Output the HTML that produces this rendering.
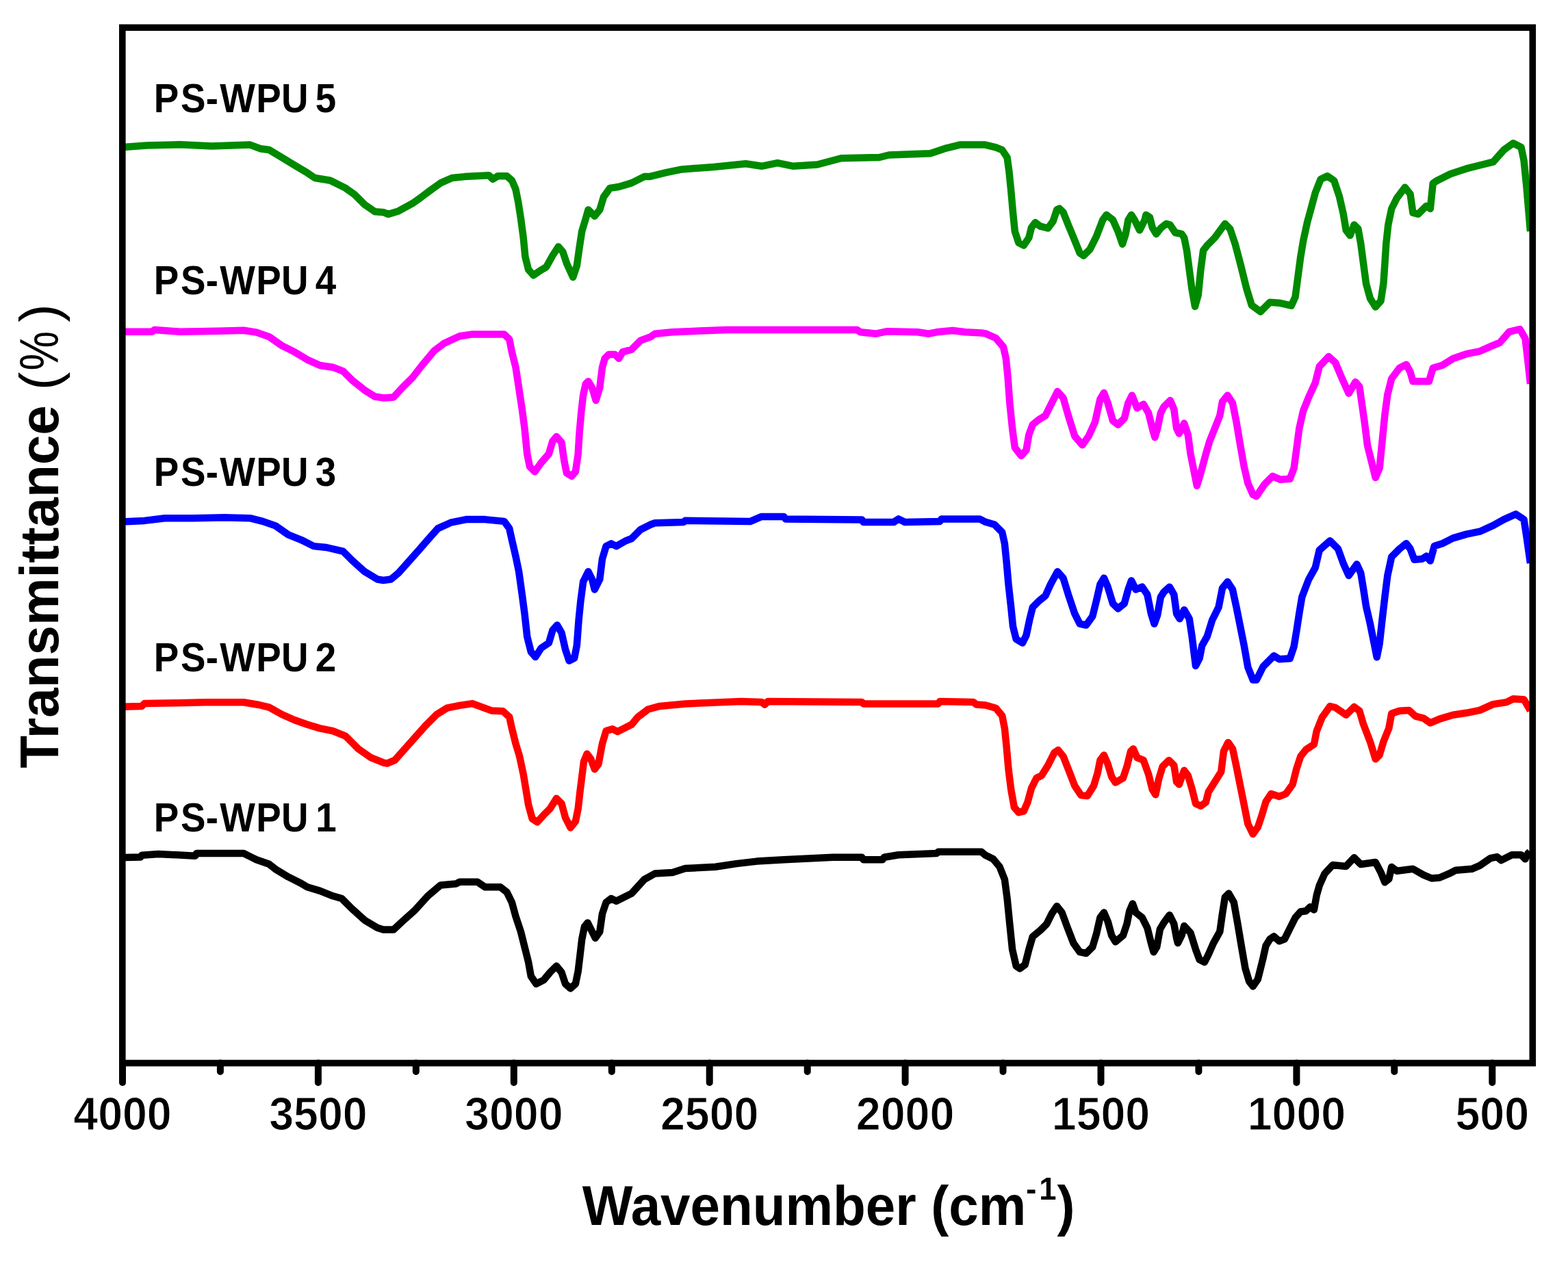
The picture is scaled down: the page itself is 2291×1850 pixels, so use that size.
<!DOCTYPE html><html><head><meta charset="utf-8"><title>FTIR spectra</title><style>html,body{margin:0;padding:0;background:#fff;overflow:hidden;}svg{display:block;}text{font-family:"Liberation Sans",Arial,sans-serif;font-weight:bold;fill:#000;}</style></head><body>
<svg width="2291" height="1850" viewBox="0 0 2291 1850">
<rect x="0" y="0" width="2291" height="1850" fill="#fff"/>
<path d="M177.4 215.3L214.7 212.6L263.0 211.3L309.5 213.5L365.3 211.6L380.2 217.2L393.3 219.0L412.0 230.2L430.5 241.4L449.0 252.6L460.0 260.0L482.6 263.7L505.0 274.9L518.0 284.2L532.8 299.0L547.7 309.3L560.0 310.2L567.4 313.0L582.3 308.4L602.8 297.2L615.8 287.9L630.7 276.7L643.7 267.4L660.5 260.0L679.0 258.1L714.4 256.3L720.0 261.9L727.4 257.2L740.5 257.2L747.9 263.7L753.5 276.7L757.2 295.3L761.0 319.5L764.7 347.4L767.4 375.3L772.1 394.0L779.5 402.3L788.8 395.8L798.1 390.2L807.4 373.5L815.8 360.5L822.3 367.9L827.9 384.7L837.2 405.1L842.8 388.4L846.5 362.3L850.2 338.1L855.8 319.5L859.5 306.5L868.8 315.8L876.3 306.5L881.9 287.9L891.2 274.9L904.2 273.0L922.8 267.4L941.4 258.1L950.0 257.9L973.3 252.1L996.5 247.4L1043.0 244.0L1089.5 239.3L1112.8 242.8L1136.0 238.1L1159.3 242.8L1194.2 240.5L1229.0 231.2L1284.9 230.0L1298.8 226.5L1359.3 224.2L1380.2 217.2L1403.5 211.4L1438.4 211.4L1454.9 215.3L1464.2 219.1L1471.6 230.2L1474.4 250.7L1477.2 278.6L1480.0 310.2L1482.8 338.1L1488.4 354.9L1495.8 358.6L1503.3 347.4L1507.0 332.6L1512.6 325.1L1520.0 330.7L1531.2 333.5L1538.6 323.3L1544.2 306.5L1547.9 304.7L1553.5 310.2L1560.9 328.8L1570.2 351.2L1577.7 369.8L1583.3 373.5L1592.6 364.2L1601.9 345.6L1611.2 321.4L1616.7 314.0L1626.0 321.4L1633.5 338.1L1640.0 356.7L1644.7 341.9L1648.4 321.4L1653.0 314.0L1657.7 321.4L1665.1 336.3L1672.6 321.4L1674.4 314.0L1680.0 317.7L1683.7 332.6L1689.3 341.9L1696.7 332.6L1704.2 327.0L1709.8 328.8L1717.2 340.0L1726.5 341.9L1730.2 347.4L1734.0 366.0L1737.7 394.0L1741.4 421.9L1746.0 447.9L1750.7 431.2L1754.4 394.0L1758.1 366.0L1763.7 358.6L1774.9 347.4L1789.8 327.0L1797.2 334.4L1804.7 356.7L1812.1 384.7L1821.4 421.9L1828.8 446.0L1841.7 455.4L1855.4 441.8L1869.1 442.7L1886.7 446.7L1892.5 434.0L1896.4 404.6L1900.3 375.3L1904.2 351.9L1910.1 324.6L1916.0 303.1L1921.8 281.6L1929.6 262.0L1939.4 257.2L1949.2 264.0L1957.0 287.4L1962.8 312.8L1966.7 336.3L1972.6 344.1L1978.5 328.5L1984.3 334.3L1988.2 355.8L1992.1 385.1L1996.0 414.4L2001.9 435.9L2009.7 448.6L2017.5 439.8L2021.4 414.4L2023.4 385.1L2025.3 355.8L2028.3 328.5L2033.2 305.0L2041.0 289.4L2052.7 273.8L2060.5 283.5L2064.4 310.9L2072.2 312.8L2084.0 301.1L2089.8 305.0L2093.7 267.9L2099.6 264.0L2119.1 254.2L2142.6 246.4L2162.1 241.5L2181.6 236.7L2197.3 219.1L2210.9 209.3L2222.6 215.2L2226.6 234.7L2230.5 273.8L2236.0 338.0" fill="none" stroke="#008a00" stroke-width="10.5" stroke-linejoin="round" stroke-linecap="butt"/>
<path d="M177.4 484.7L222.1 484.7L225.8 481.9L263.0 484.7L318.8 483.7L356.0 482.8L374.6 485.6L393.3 492.1L411.9 505.1L430.5 514.4L449.0 525.6L467.7 534.0L486.3 536.7L501.2 542.3L514.2 555.3L532.8 570.2L547.7 579.5L560.0 581.4L574.9 580.5L587.9 566.5L602.8 551.6L615.8 534.9L634.4 512.6L649.3 501.4L671.6 491.2L690.2 488.4L736.7 488.4L744.2 495.8L747.9 514.4L753.5 536.7L757.2 560.9L762.8 598.1L766.5 626.0L770.2 663.3L774.0 681.9L781.4 689.3L790.7 676.3L801.9 663.3L807.4 644.7L813.0 638.1L820.5 646.5L824.2 672.6L827.9 691.2L835.3 695.8L840.9 689.3L844.7 663.3L846.5 633.5L849.3 601.9L852.1 577.7L855.8 560.9L859.5 557.2L865.1 566.5L870.7 585.1L876.3 566.5L880.0 536.7L883.7 523.7L889.3 518.1L898.6 518.1L904.2 523.7L909.8 514.4L922.8 510.7L935.8 497.7L950.7 492.1L957.0 487.7L982.6 485.3L1061.6 481.9L1252.3 481.9L1257.0 485.3L1280.2 487.7L1296.5 484.2L1340.7 485.3L1357.0 487.7L1368.6 485.3L1391.9 483.0L1410.5 485.3L1433.7 486.5L1440.0 487.4L1454.9 494.0L1466.0 507.0L1469.8 523.7L1472.6 551.6L1475.3 588.8L1479.1 626.0L1482.8 654.0L1492.1 666.0L1499.5 657.7L1503.3 635.3L1508.8 620.5L1518.1 613.0L1527.4 607.4L1536.7 588.8L1545.1 572.1L1553.5 581.4L1560.9 607.4L1570.2 637.2L1581.4 650.2L1590.7 637.2L1600.0 616.7L1607.4 583.3L1613.0 574.0L1618.6 588.8L1626.0 614.9L1633.5 620.5L1642.8 611.2L1648.4 588.8L1654.0 577.7L1661.4 596.3L1670.7 590.7L1678.1 603.7L1683.7 626.0L1687.4 639.1L1691.2 626.0L1695.8 603.7L1700.5 594.4L1709.8 585.1L1715.3 598.1L1719.1 626.0L1722.8 633.5L1730.2 618.6L1735.8 635.3L1739.5 663.3L1745.1 691.2L1748.8 709.8L1754.4 691.2L1761.9 663.3L1767.4 644.7L1774.9 626.0L1782.3 607.4L1786.0 587.0L1793.5 577.7L1800.9 588.8L1806.5 616.7L1812.1 650.2L1817.7 681.9L1823.3 706.0L1830.7 722.8L1835.9 725.2L1847.6 707.6L1859.3 695.9L1871.0 700.8L1884.7 699.8L1890.6 684.2L1894.5 654.9L1898.4 625.6L1904.2 600.2L1912.0 580.7L1921.8 559.2L1927.7 535.7L1941.3 521.1L1951.1 529.9L1960.9 553.3L1970.7 574.8L1980.4 558.2L1986.3 565.0L1990.2 592.4L1994.1 619.7L1998.0 651.0L2003.9 674.4L2009.7 697.9L2015.6 684.2L2019.5 645.1L2023.4 606.0L2027.3 576.7L2033.2 553.3L2044.9 537.7L2054.7 532.8L2060.5 543.5L2064.4 557.2L2076.1 557.2L2087.9 557.2L2093.7 537.7L2107.4 533.8L2123.0 524.0L2142.6 517.2L2162.1 513.3L2177.7 506.4L2191.4 500.6L2205.1 484.9L2220.7 481.0L2228.5 494.7L2232.4 527.9L2236.0 561.0" fill="none" stroke="#ff00ff" stroke-width="10.5" stroke-linejoin="round" stroke-linecap="butt"/>
<path d="M177.4 762.4L210.9 760.9L240.7 757.2L281.6 757.2L328.1 756.3L365.3 757.2L384.0 761.9L402.6 768.4L421.2 781.4L439.8 788.8L458.4 798.1L477.0 800.0L501.2 805.6L514.2 818.6L532.8 835.3L551.4 846.5L560.0 848.0L571.2 846.5L582.3 837.2L597.2 820.5L612.1 803.7L625.1 788.8L640.0 772.1L658.6 763.7L680.9 759.1L708.8 759.1L736.7 761.9L744.2 772.1L747.9 788.8L753.5 813.0L758.1 835.3L762.8 868.8L766.5 896.7L770.2 930.2L775.8 952.6L782.3 960.0L790.7 947.0L801.9 939.5L807.4 920.9L814.0 913.5L820.5 924.7L826.0 948.8L831.6 965.6L839.1 961.9L842.8 943.3L845.6 906.0L848.4 878.1L852.1 850.2L859.5 835.3L865.1 846.5L868.8 861.4L876.3 846.5L880.0 816.7L885.6 798.1L893.0 794.4L900.5 798.1L913.5 790.7L922.8 787.0L935.8 774.0L950.7 766.5L957.0 764.2L998.8 763.0L1001.2 760.7L1096.5 761.9L1112.8 754.9L1145.3 754.9L1147.7 758.4L1259.3 759.5L1261.6 763.0L1305.8 763.0L1312.8 758.4L1322.1 763.0L1373.3 761.9L1375.6 758.4L1431.4 758.4L1440.0 762.8L1453.0 766.5L1464.2 777.7L1467.9 794.4L1470.7 822.3L1473.5 854.0L1477.2 887.4L1480.0 915.3L1484.7 934.0L1494.0 939.5L1499.5 928.4L1504.2 906.0L1508.8 887.4L1518.1 878.1L1527.4 870.7L1534.9 854.0L1545.1 835.3L1553.5 844.7L1560.9 868.8L1570.2 896.7L1577.7 911.6L1587.0 913.5L1596.3 900.5L1601.9 878.1L1607.4 854.0L1613.0 844.7L1618.6 857.7L1626.0 881.9L1633.5 889.3L1642.8 881.9L1648.4 861.4L1653.0 848.4L1659.5 861.4L1668.8 857.7L1676.3 868.8L1681.9 896.7L1686.5 911.6L1691.2 898.6L1695.8 872.6L1700.5 865.1L1708.8 857.7L1715.3 868.8L1719.1 896.7L1723.7 904.2L1730.2 891.2L1737.7 904.2L1741.4 928.4L1745.1 958.1L1747.0 973.0L1752.6 961.9L1756.3 943.3L1763.7 930.2L1771.2 906.0L1780.5 887.4L1786.0 859.5L1793.5 850.2L1800.9 861.4L1806.5 887.4L1812.1 915.3L1817.7 943.3L1823.3 974.9L1830.7 993.5L1835.9 993.5L1845.6 974.0L1861.3 958.3L1869.1 963.2L1884.7 962.2L1890.6 944.7L1894.5 921.2L1898.4 895.8L1902.3 872.4L1912.0 847.0L1921.8 829.4L1927.7 804.0L1943.3 790.3L1955.0 802.0L1962.8 823.5L1970.7 841.1L1982.4 824.5L1988.2 837.2L1992.1 860.6L1996.0 886.0L2001.9 911.4L2007.8 940.7L2011.7 960.3L2015.6 940.7L2019.5 905.6L2023.4 872.4L2027.3 841.1L2033.2 813.8L2044.9 802.0L2054.7 794.2L2060.5 802.0L2066.4 817.7L2078.1 816.7L2084.0 812.8L2089.8 819.6L2095.7 798.1L2107.4 794.2L2123.0 786.4L2142.6 780.6L2162.1 776.7L2181.6 767.9L2197.3 759.1L2214.8 751.3L2226.6 759.1L2230.5 784.5L2236.0 823.0" fill="none" stroke="#0000ff" stroke-width="10.5" stroke-linejoin="round" stroke-linecap="butt"/>
<path d="M177.4 1032.8L207.2 1031.9L210.9 1028.1L259.3 1027.2L300.2 1026.3L356.0 1026.3L378.4 1030.0L393.3 1033.7L411.9 1044.0L430.5 1052.3L449.0 1058.8L467.7 1064.4L486.3 1068.1L504.9 1075.6L523.5 1094.2L542.1 1107.2L560.7 1114.7L565.6 1115.6L576.7 1110.9L591.6 1094.2L606.5 1077.4L621.4 1060.7L638.1 1044.0L653.0 1034.7L671.6 1030.9L690.2 1028.1L705.1 1033.7L718.1 1038.4L734.9 1039.3L744.2 1047.7L747.9 1064.4L753.5 1086.7L759.1 1105.3L764.7 1131.4L768.4 1153.7L772.1 1176.0L777.7 1196.5L785.1 1201.2L794.4 1190.9L803.7 1181.6L813.0 1166.7L820.5 1174.2L826.0 1194.7L833.5 1209.5L840.9 1200.2L844.7 1181.6L847.4 1157.4L850.2 1135.1L853.0 1112.8L857.7 1101.6L863.3 1109.1L868.8 1124.0L874.4 1116.5L880.0 1086.7L885.6 1068.1L894.9 1065.3L902.3 1069.1L922.8 1058.8L932.1 1047.7L947.0 1036.5L964.0 1031.9L1001.2 1028.4L1082.6 1024.9L1112.8 1026.0L1117.4 1029.5L1122.1 1024.9L1259.3 1026.0L1261.6 1028.4L1370.9 1028.4L1373.3 1024.9L1422.1 1026.0L1426.7 1029.5L1440.0 1030.5L1454.9 1034.7L1464.2 1045.8L1467.9 1064.4L1470.7 1092.3L1473.5 1124.0L1477.2 1153.7L1481.9 1179.8L1488.4 1187.2L1495.8 1185.3L1501.4 1172.3L1507.0 1151.9L1514.4 1137.0L1521.9 1133.3L1531.2 1118.4L1540.5 1099.8L1546.0 1096.0L1553.5 1105.3L1560.9 1124.0L1570.2 1148.1L1579.5 1162.1L1588.8 1163.0L1598.1 1148.1L1603.7 1129.5L1607.4 1110.9L1613.0 1103.5L1618.6 1116.5L1624.2 1135.1L1629.8 1143.5L1640.9 1137.0L1646.5 1120.2L1652.1 1097.9L1655.8 1094.2L1661.4 1107.2L1670.7 1110.9L1678.1 1131.4L1683.7 1153.7L1688.4 1161.2L1693.0 1138.8L1698.6 1120.2L1707.9 1110.9L1715.3 1118.4L1719.1 1142.6L1722.8 1146.3L1730.2 1125.8L1735.8 1133.3L1741.4 1151.9L1747.0 1174.2L1754.4 1177.9L1761.9 1172.3L1765.6 1157.4L1774.9 1142.6L1784.2 1127.7L1787.9 1097.9L1794.4 1084.9L1801.0 1094.2L1806.5 1120.2L1812.1 1148.1L1817.7 1176.0L1823.3 1204.0L1830.7 1218.8L1837.8 1208.8L1843.7 1191.2L1849.5 1171.7L1857.3 1160.0L1869.1 1163.9L1878.8 1160.0L1888.6 1146.3L1894.5 1122.8L1900.3 1105.3L1908.1 1095.5L1919.9 1087.7L1923.8 1068.1L1931.6 1048.6L1943.3 1032.0L1951.1 1034.0L1966.7 1044.7L1978.5 1033.0L1986.3 1038.8L1992.1 1058.4L2001.9 1083.8L2009.7 1109.2L2015.6 1103.3L2021.4 1083.8L2029.3 1064.2L2033.2 1042.7L2044.9 1038.8L2058.6 1037.9L2068.3 1046.7L2080.0 1049.6L2089.8 1056.4L2103.5 1050.6L2123.0 1044.7L2142.6 1041.8L2162.1 1037.9L2181.6 1029.1L2201.2 1026.1L2210.9 1021.3L2226.6 1022.2L2236.0 1038.5" fill="none" stroke="#ff0000" stroke-width="10.5" stroke-linejoin="round" stroke-linecap="butt"/>
<path d="M183.0 1253.1L205.3 1252.6L207.2 1249.8L231.4 1247.9L285.3 1250.7L287.2 1247.0L356.0 1247.0L365.3 1251.6L374.6 1256.3L393.3 1262.8L402.6 1270.2L421.2 1281.4L439.8 1290.7L449.0 1296.3L467.7 1301.9L486.3 1309.3L499.3 1313.0L514.2 1327.9L532.8 1344.7L551.4 1355.8L560.0 1358.6L574.9 1358.6L587.9 1346.5L606.5 1329.8L625.1 1309.3L643.7 1293.5L666.0 1291.6L671.6 1288.8L697.7 1288.8L708.8 1296.3L731.2 1296.3L740.5 1303.7L747.9 1318.6L753.5 1339.1L760.9 1361.4L766.5 1383.7L772.1 1406.0L775.8 1426.5L783.3 1437.7L794.4 1432.1L803.7 1420.9L813.0 1411.6L820.5 1420.9L826.0 1437.7L833.5 1444.2L840.9 1437.7L844.7 1419.1L847.4 1396.7L850.2 1372.6L854.0 1354.0L858.6 1348.4L865.1 1361.4L869.8 1370.7L876.3 1361.4L880.0 1335.3L885.6 1318.6L893.0 1313.0L900.5 1316.7L922.8 1305.6L941.4 1285.1L957.0 1276.5L982.6 1274.9L1001.2 1269.1L1045.3 1266.7L1075.6 1262.1L1105.8 1258.6L1145.3 1256.3L1217.4 1252.8L1259.3 1252.8L1261.6 1256.3L1289.5 1256.3L1291.9 1252.8L1312.8 1249.3L1368.6 1247.0L1370.9 1244.7L1433.7 1244.7L1440.0 1249.8L1451.2 1255.3L1460.5 1266.5L1467.9 1285.1L1471.6 1313.0L1475.3 1350.2L1479.1 1387.4L1484.7 1411.6L1490.2 1415.3L1497.7 1409.8L1503.3 1387.4L1508.8 1368.8L1520.0 1359.5L1529.3 1350.2L1536.7 1335.3L1544.2 1324.2L1551.6 1333.5L1559.1 1354.0L1568.4 1378.1L1577.7 1391.2L1587.0 1393.0L1596.3 1383.7L1601.9 1365.1L1607.4 1340.9L1613.0 1333.5L1618.6 1346.5L1624.2 1367.0L1629.8 1376.3L1640.9 1367.0L1646.5 1350.2L1650.2 1331.6L1654.9 1320.5L1659.5 1333.5L1668.8 1340.9L1676.3 1355.8L1681.9 1378.1L1685.6 1391.2L1690.2 1383.7L1694.9 1357.7L1700.5 1348.4L1708.8 1337.2L1715.3 1350.2L1719.1 1370.7L1720.9 1378.1L1726.5 1367.0L1730.2 1353.0L1739.5 1363.3L1747.0 1387.4L1752.6 1402.3L1760.0 1406.0L1765.6 1394.9L1773.0 1378.1L1782.3 1361.4L1786.0 1335.3L1789.8 1311.2L1795.3 1305.6L1802.8 1318.6L1808.4 1350.2L1814.0 1383.7L1819.5 1415.3L1825.1 1434.0L1830.7 1441.4L1837.8 1431.0L1841.7 1415.4L1845.6 1399.7L1849.5 1382.1L1855.4 1372.4L1861.3 1368.5L1869.1 1375.3L1876.9 1372.4L1884.7 1356.7L1892.5 1341.1L1900.3 1332.3L1908.1 1331.3L1914.0 1325.5L1919.9 1329.4L1923.8 1307.9L1927.7 1294.2L1935.5 1276.7L1947.2 1264.0L1966.7 1265.9L1978.5 1253.2L1988.2 1263.0L2009.7 1260.0L2017.5 1274.7L2023.4 1289.3L2029.3 1284.5L2033.2 1266.9L2041.0 1272.7L2064.4 1269.8L2080.0 1278.6L2091.8 1283.5L2103.5 1282.5L2117.2 1276.7L2126.9 1271.8L2150.4 1269.8L2162.1 1264.9L2177.7 1254.2L2187.5 1252.2L2193.4 1257.1L2209.0 1249.3L2222.6 1249.3L2228.5 1255.2L2232.4 1247.3L2235.3 1244.4" fill="none" stroke="#000" stroke-width="10.5" stroke-linejoin="round" stroke-linecap="butt"/>
<rect x="178.8" y="40.3" width="2060.5" height="1513.2" fill="none" stroke="#000" stroke-width="9.6"/>
<path d="M179.0 1553.5V1582.0M464.9 1553.5V1582.0M750.8 1553.5V1582.0M1036.7 1553.5V1582.0M1322.6 1553.5V1582.0M1608.5 1553.5V1582.0M1894.4 1553.5V1582.0M2180.3 1553.5V1582.0M321.9 1553.5V1566.0M607.8 1553.5V1566.0M893.8 1553.5V1566.0M1179.7 1553.5V1566.0M1465.5 1553.5V1566.0M1751.4 1553.5V1566.0M2037.3 1553.5V1566.0" stroke="#000" stroke-width="10" stroke-linecap="round" fill="none"/>
<text transform="translate(179.0 1651.2) scale(0.935 1)" x="0" y="0" font-size="69" text-anchor="middle" stroke="#fff" stroke-width="1.1">4000</text>
<text transform="translate(464.9 1651.2) scale(0.935 1)" x="0" y="0" font-size="69" text-anchor="middle" stroke="#fff" stroke-width="1.1">3500</text>
<text transform="translate(750.8 1651.2) scale(0.935 1)" x="0" y="0" font-size="69" text-anchor="middle" stroke="#fff" stroke-width="1.1">3000</text>
<text transform="translate(1036.7 1651.2) scale(0.935 1)" x="0" y="0" font-size="69" text-anchor="middle" stroke="#fff" stroke-width="1.1">2500</text>
<text transform="translate(1322.6 1651.2) scale(0.935 1)" x="0" y="0" font-size="69" text-anchor="middle" stroke="#fff" stroke-width="1.1">2000</text>
<text transform="translate(1608.5 1651.2) scale(0.935 1)" x="0" y="0" font-size="69" text-anchor="middle" stroke="#fff" stroke-width="1.1">1500</text>
<text transform="translate(1894.4 1651.2) scale(0.935 1)" x="0" y="0" font-size="69" text-anchor="middle" stroke="#fff" stroke-width="1.1">1000</text>
<text transform="translate(2180.3 1651.2) scale(0.935 1)" x="0" y="0" font-size="69" text-anchor="middle" stroke="#fff" stroke-width="1.1">500</text>
<text transform="scale(0.92 1)" x="244.3 286.9 327.0 349.1 406.8 446.8 480.0 500.9" y="164.4" font-size="59.5">PS-WPU 5</text>
<text transform="scale(0.92 1)" x="244.3 286.9 327.0 349.1 406.8 446.8 480.0 500.9" y="429.9" font-size="59.5">PS-WPU 4</text>
<text transform="scale(0.92 1)" x="244.3 286.9 327.0 349.1 406.8 446.8 480.0 500.9" y="710.4" font-size="59.5">PS-WPU 3</text>
<text transform="scale(0.92 1)" x="244.3 286.9 327.0 349.1 406.8 446.8 480.0 500.9" y="981.1" font-size="59.5">PS-WPU 2</text>
<text transform="scale(0.92 1)" x="244.3 286.9 327.0 349.1 406.8 446.8 480.0 501.5" y="1214.8" font-size="59.5">PS-WPU 1</text>
<text transform="translate(850.8 1789.6) scale(0.965 1)" x="0" y="0" font-size="81">Wavenumber (cm<tspan font-size="47" dy="-37">-</tspan><tspan font-size="47" dx="4">1</tspan><tspan dy="37" dx="1">)</tspan></text>
<text transform="translate(85.3 1122.8) rotate(-90)" x="0" y="0" font-size="80" textLength="530.7" lengthAdjust="spacingAndGlyphs">Transmittance</text>
<g transform="translate(85.3 1122.8) rotate(-90)" font-size="80" style="font-weight:normal"><text x="552.6" y="0" style="font-weight:normal">(</text><text transform="translate(581.2 0) scale(0.81 1)" x="0" y="0" style="font-weight:normal">%</text><text x="651.8" y="0" style="font-weight:normal">)</text></g>
</svg></body></html>
